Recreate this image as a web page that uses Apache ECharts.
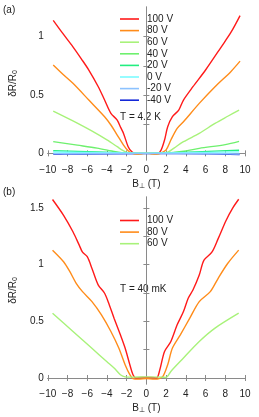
<!DOCTYPE html>
<html><head><meta charset="utf-8">
<script src="https://cdn.jsdelivr.net/npm/echarts@6/dist/echarts.min.js"></script>
<style>html,body{margin:0;padding:0;background:#fff}#c{width:259px;height:417px}</style>
</head><body><div id="c"></div>
<script>
// Panel (a), T = 4.2 K
const namesA = ['100 V','80 V','60 V','40 V','20 V','0 V','-20 V','-40 V'];
const colorsA = ['#ff1a1a','#ff8c1a','#a8f27a','#6ef06e','#22ee80','#7cfcff','#8cc2ff','#1428d8'];
const a100 = [[-9.45,1.14],[-8.5,1.03],[-7.45,0.913],[-6.6,0.81],[-5.84,0.714],[-4.88,0.571],[-4.24,0.457],[-3.6,0.343],[-2.96,0.285],[-2.6,0.22],[-2.32,0.171],[-1.85,0.057],[-1.5,0.015],[-1.2,0.002],[-0.6,0],[0,0],[0.6,0],[1.2,0.002],[1.5,0.03],[1.84,0.114],[2.16,0.228],[2.64,0.314],[3.28,0.371],[3.76,0.457],[4.72,0.571],[6,0.714],[7.6,0.913],[8.6,1.04],[9.5,1.18]];
const a80 = [[-9.45,0.757],[-8.5,0.68],[-7.45,0.6],[-5.84,0.457],[-4.24,0.314],[-3.6,0.243],[-2.96,0.157],[-2.32,0.071],[-1.85,0.022],[-1.5,0.003],[-1.0,-0.008],[-0.5,-0.005],[0,0],[0.5,-0.005],[1.0,-0.008],[1.5,0.003],[2,0.03],[2.48,0.114],[3.12,0.214],[3.76,0.271],[5.36,0.428],[6.96,0.571],[8.56,0.7],[9.5,0.79]];
const a60 = [[-9.45,0.362],[-7.5,0.28],[-5.5,0.19],[-4,0.115],[-2.96,0.057],[-2.4,0.025],[-2,0.008],[-1.5,0.002],[0,0],[1.5,0.002],[2.16,0.01],[2.8,0.045],[3.76,0.1],[5.36,0.171],[6.96,0.257],[8.3,0.32],[9.4,0.371]];
const a40 = [[-9.45,0.1],[-7,0.07],[-5,0.045],[-3.5,0.02],[-2.5,0.005],[-1.5,0],[0,0],[1.5,0],[2.5,0.005],[4,0.02],[5.36,0.043],[8,0.075],[9.4,0.103]];
const a20 = [[-9.45,0.022],[-5,0.012],[-2,0.003],[0,0],[2,0.003],[5,0.013],[9.4,0.027]];
const a0 = [[-9.45,0.012],[-4,0.005],[0,0.002],[4,0.005],[9.4,0.013]];
const am20 = [[-9.45,-0.002],[-8.3,-0.003],[0,0],[8.3,-0.003],[9.45,-0.005]];
const am40 = [[-9.45,-0.006],[-6.7,-0.005],[0,-0.002],[6.3,-0.004],[9.45,-0.01]];
const dataA = [a100,a80,a60,a40,a20,a0,am20,am40];

// Panel (b), T = 40 mK
const namesB = ['100 V','80 V','60 V'];
const colorsB = ['#ff1a1a','#ff8c1a','#a8f27a'];
const b100 = [[-9.52,1.575],[-8.4,1.435],[-7.45,1.29],[-6.8,1.17],[-6.48,1.11],[-6.0,1.07],[-5.52,0.967],[-4.88,0.82],[-4.24,0.748],[-3.76,0.645],[-3.28,0.528],[-2.64,0.381],[-2.16,0.264],[-1.68,0.117],[-1.36,0.029],[-1.04,0.0],[-0.5,0.005],[0,0.005],[0.5,0.005],[1.04,0.0],[1.36,0.073],[1.84,0.234],[2.48,0.322],[3.12,0.469],[3.76,0.586],[4.24,0.704],[4.72,0.777],[5.36,0.909],[5.84,1.04],[6.64,1.11],[7.28,1.23],[8.08,1.39],[8.72,1.495],[9.36,1.577]];
const b80 = [[-9.52,1.128],[-8.4,1.026],[-7.76,0.938],[-7.12,0.835],[-6.48,0.762],[-5.52,0.674],[-4.56,0.557],[-3.6,0.41],[-2.8,0.264],[-2.16,0.117],[-1.68,0.029],[-1.36,-0.005],[-0.8,-0.01],[0,-0.005],[0.8,-0.01],[1.3,-0.005],[1.68,0.014],[2.16,0.117],[2.64,0.264],[3.44,0.381],[4.4,0.528],[5.36,0.674],[6.48,0.762],[7.28,0.88],[8.24,1.01],[9.36,1.128]];
const b60 = [[-9.52,0.572],[-7.5,0.415],[-5.5,0.26],[-4,0.143],[-3.28,0.088],[-2.64,0.029],[-2.16,0.01],[-1.5,0.008],[0,0.01],[1.5,0.008],[2.0,0.005],[2.48,0.058],[3.76,0.176],[5.36,0.322],[6.96,0.44],[9.36,0.572]];
const dataB = [b100,b80,b60];

const xTicks = [-10,-8,-6,-4,-2,0,2,4,6,8,10];
const yLabelsA = [0,0.5,1];
const yTicksA = [0,0.25,0.5,0.75,1];
const yLabelsB = [0,0.5,1,1.5];
const yTicksB = [0,0.25,0.5,0.75,1,1.25,1.5];

const FONT = 'Liberation Sans, Arial, sans-serif';
const frame = {show:true, lineStyle:{color:'#8a8a8a', width:1}};
const tick = {show:true, inside:true, length:3, lineStyle:{color:'#8a8a8a'}};
const minus = v => String(v).replace('-', '\u2212');

function xAx(gi, main){
  return {type:'value', gridIndex:gi, min:-10, max:10, interval:2,
    position: main ? 'bottom':'top',
    axisLine:frame, axisTick:tick, splitLine:{show:false},
    axisLabel:{show:main, color:'#222', fontSize:10, fontFamily:FONT, margin:5, formatter:minus},
    name: main ? 'B{s|\u22a5} (T)' : '', nameLocation:'middle', nameGap:19,
    nameTextStyle:{color:'#222', fontSize:10, fontFamily:FONT, rich:{s:{fontSize:7, verticalAlign:'bottom', padding:[4,0,0,0], fontFamily:FONT, color:'#222'}}}};
}
function yAx(gi, main, mn, mx, labels, ticks){
  return {type:'value', gridIndex:gi, min:mn, max:mx, position: main?'left':'right',
    axisLine:frame, axisTick:Object.assign({}, tick, {customValues:ticks}), splitLine:{show:false},
    axisLabel:{show:main, customValues:labels, color:'#222', fontSize:10, fontFamily:FONT, margin:4},
    name: main ? 'δR/R{s|0}' : '', nameLocation:'middle', nameGap:22, nameRotate:90,
    nameTextStyle:{color:'#222', fontSize:10, fontFamily:FONT, rich:{s:{fontSize:7, fontFamily:FONT, color:'#222', padding:[5,0,0,0]}}}};
}

const series = [];
dataA.forEach((d,i)=>series.push({name:namesA[i], type:'line', xAxisIndex:0, yAxisIndex:0, data:d,
  showSymbol:false, smooth:0.3, lineStyle:{color:colorsA[i], width:1.4}, itemStyle:{color:colorsA[i]},
  z: i===7 ? 1 : (10+i)}));
dataB.forEach((d,i)=>series.push({name:namesB[i]+'#b', type:'line', xAxisIndex:2, yAxisIndex:2, data:d,
  showSymbol:false, smooth:0.3, lineStyle:{color:colorsB[i], width:1.4}, itemStyle:{color:colorsB[i]}, z:10+i}));

const legendCommon = {orient:'vertical', icon:'rect', itemWidth:19, itemHeight:1.6, itemGap:1.6,
  selectedMode:false, left:115,
  textStyle:{color:'#222', fontSize:10, fontFamily:FONT, lineHeight:10, padding:[0,0,0,3]},
  formatter: n => n.replace('#b','')};

const option = {
  animation:false,
  grid:[{left:37, right:14, top:7, height:153},{left:37, right:14, top:197, height:187}],
  xAxis:[xAx(0,true), xAx(0,false), xAx(1,true), xAx(1,false)],
  yAxis:[yAx(0,true,-0.057,1.254,yLabelsA,yTicksA), yAx(0,false,-0.057,1.254,yLabelsA,yTicksA),
         yAx(1,true,-0.053,1.597,yLabelsB,yTicksB), yAx(1,false,-0.053,1.597,yLabelsB,yTicksB)],
  legend:[Object.assign({}, legendCommon, {top:9, data:namesA}),
          Object.assign({}, legendCommon, {top:210.5, data:namesB.map(n=>n+'#b')})],
  graphic:[
    {type:'text', left:3, top:5, style:{text:'(a)', fontSize:10, fontFamily:FONT, fill:'#222'}},
    {type:'text', left:3, top:187, style:{text:'(b)', fontSize:10, fontFamily:FONT, fill:'#222'}},
    {type:'text', left:120, top:112, style:{text:'T = 4.2 K', fontSize:10, fontFamily:FONT, fill:'#222'}},
    {type:'text', left:120, top:284, style:{text:'T = 40 mK', fontSize:10, fontFamily:FONT, fill:'#222'}}
  ],
  series:series
};
const chart = echarts.init(document.getElementById('c'), null, {renderer:'canvas'});
chart.setOption(option);
</script></body></html>
